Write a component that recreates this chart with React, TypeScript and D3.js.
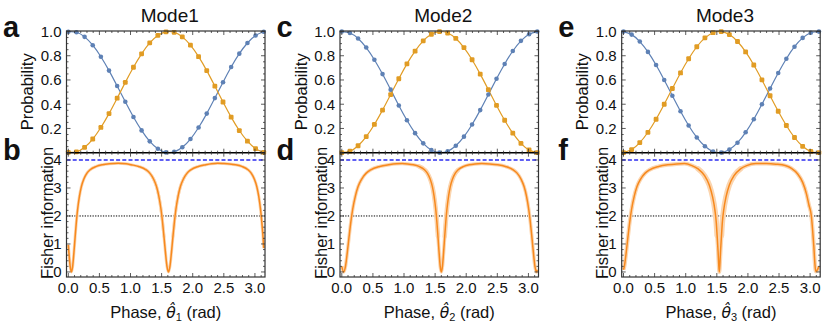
import React from 'react';
import * as d3 from 'd3';

// ---------- data ----------
const PHASE = [0, 0.1309, 0.2618, 0.3927, 0.5236, 0.6545, 0.7854, 0.9163, 1.0472, 1.1781, 1.309, 1.4399, 1.5708, 1.7017, 1.8326, 1.9635, 2.0944, 2.2253, 2.3562, 2.4871, 2.618, 2.7489, 2.8798, 3.0107, 3.1416];

const BLUE1 = [0.9975, 0.9935, 0.9557, 0.887, 0.7918, 0.6775, 0.5503, 0.4198, 0.295, 0.184, 0.0935, 0.0323, 0.0025, 0.0066, 0.0444, 0.1126, 0.2078, 0.3225, 0.4505, 0.5816, 0.7066, 0.8171, 0.905, 0.9669, 0.9976];
const ORANGE1 = [0.0025, 0.0065, 0.0443, 0.113, 0.2082, 0.3225, 0.4497, 0.5802, 0.705, 0.816, 0.9065, 0.9677, 0.9975, 0.9934, 0.9556, 0.8874, 0.7922, 0.6775, 0.5495, 0.4184, 0.2934, 0.1829, 0.095, 0.0331, 0.0024];
const BLUE2 = [0.9996, 0.9878, 0.9427, 0.8674, 0.7671, 0.6487, 0.5201, 0.39, 0.2672, 0.1612, 0.0773, 0.0225, 0.0004, 0.0123, 0.0572, 0.1323, 0.2329, 0.3515, 0.4801, 0.6098, 0.7322, 0.8389, 0.9227, 0.9775, 0.9996];
const ORANGE2 = [0.0004, 0.0122, 0.0573, 0.1326, 0.2329, 0.3513, 0.4799, 0.61, 0.7328, 0.8388, 0.9227, 0.9775, 0.9996, 0.9877, 0.9428, 0.8677, 0.7671, 0.6485, 0.5199, 0.3902, 0.2678, 0.1611, 0.0773, 0.0225, 0.0004];
const BLUE3 = [0.9991, 0.9743, 0.9172, 0.8317, 0.7236, 0.6004, 0.4702, 0.3422, 0.2245, 0.1259, 0.0527, 0.0101, 0.0009, 0.0256, 0.0826, 0.1683, 0.2763, 0.3996, 0.5301, 0.6579, 0.7755, 0.8744, 0.9473, 0.9898, 0.9991];
const ORANGE3 = [0.0009, 0.0258, 0.0829, 0.1685, 0.2761, 0.3998, 0.5295, 0.6581, 0.7752, 0.8742, 0.9474, 0.9899, 0.9991, 0.9745, 0.9175, 0.8314, 0.7238, 0.6006, 0.4697, 0.3419, 0.2246, 0.1254, 0.0526, 0.0103, 0.0009];

const FISHER1: [number, number][] = [[0, 0.97], [0.01, 0.69], [0.03, 0.2], [0.05, 0], [0.07, 0.2], [0.09, 0.69], [0.11, 1.26], [0.13, 1.8], [0.15, 2.24], [0.18, 2.72], [0.21, 3.05], [0.25, 3.32], [0.3, 3.53], [0.35, 3.65], [0.45, 3.77], [0.55, 3.83], [0.66, 3.865], [0.8, 3.885], [0.93, 3.865], [1.01, 3.83], [1.13, 3.77], [1.25, 3.65], [1.31, 3.53], [1.37, 3.32], [1.418, 3.05], [1.454, 2.72], [1.49, 2.24], [1.514, 1.8], [1.538, 1.26], [1.562, 0.69], [1.586, 0.2], [1.61, 0], [1.634, 0.2], [1.658, 0.69], [1.682, 1.26], [1.706, 1.8], [1.73, 2.24], [1.766, 2.72], [1.802, 3.05], [1.85, 3.32], [1.91, 3.53], [1.97, 3.65], [2.09, 3.77], [2.21, 3.83], [2.3, 3.865], [2.4, 3.885], [2.5, 3.875], [2.59, 3.86], [2.69, 3.83], [2.79, 3.77], [2.89, 3.65], [2.94, 3.53], [2.99, 3.32], [3.03, 3.05], [3.06, 2.72], [3.09, 2.24], [3.11, 1.8], [3.13, 1.26], [3.142, 0.85]];
const FISHER2: [number, number][] = [[0, 0.2], [0.03, 0], [0.059, 0.2], [0.088, 0.69], [0.117, 1.26], [0.146, 1.8], [0.175, 2.24], [0.219, 2.72], [0.262, 3.05], [0.32, 3.32], [0.393, 3.53], [0.465, 3.65], [0.61, 3.77], [0.755, 3.83], [0.88, 3.865], [0.97, 3.875], [1.06, 3.86], [1.15, 3.83], [1.24, 3.77], [1.33, 3.65], [1.375, 3.53], [1.42, 3.32], [1.456, 3.05], [1.483, 2.72], [1.51, 2.24], [1.528, 1.8], [1.546, 1.26], [1.564, 0.69], [1.582, 0.2], [1.6, 0], [1.618, 0.2], [1.636, 0.69], [1.654, 1.26], [1.672, 1.8], [1.69, 2.24], [1.717, 2.72], [1.744, 3.05], [1.78, 3.32], [1.825, 3.53], [1.87, 3.65], [1.96, 3.77], [2.05, 3.83], [2.14, 3.86], [2.25, 3.875], [2.38, 3.86], [2.505, 3.83], [2.63, 3.77], [2.755, 3.65], [2.818, 3.53], [2.88, 3.32], [2.93, 3.05], [2.968, 2.72], [3.005, 2.24], [3.03, 1.8], [3.055, 1.26], [3.08, 0.69], [3.105, 0.2], [3.13, 0], [3.142, 0.08]];
const FISHER3: [number, number][] = [[0, 0.08], [0.014, 0.2], [0.043, 0.69], [0.072, 1.26], [0.101, 1.8], [0.13, 2.24], [0.174, 2.72], [0.217, 3.05], [0.275, 3.32], [0.348, 3.53], [0.42, 3.65], [0.565, 3.77], [0.71, 3.83], [0.855, 3.86], [0.98, 3.87], [1.1, 3.8], [1.2, 3.68], [1.3, 3.45], [1.38, 3.1], [1.43, 2.7], [1.47, 2.2], [1.49, 1.8], [1.505, 1.3], [1.52, 0.75], [1.53, 0.3], [1.54, 0], [1.55, 0.3], [1.56, 0.75], [1.575, 1.3], [1.59, 1.8], [1.61, 2.2], [1.65, 2.7], [1.7, 3.1], [1.78, 3.45], [1.88, 3.68], [1.98, 3.8], [2.13, 3.87], [2.3, 3.87], [2.45, 3.85], [2.6, 3.8], [2.7, 3.7], [2.8, 3.5], [2.88, 3.2], [2.94, 2.8], [2.98, 2.4], [3.02, 2.0], [3.04, 1.5], [3.06, 0.9], [3.075, 0.35], [3.09, 0.02], [3.11, 0.05], [3.142, 0.2]];

const MODE_TITLES = ['Mode1', 'Mode2', 'Mode3'];
const TOP_LETTERS = ['a', 'c', 'e'];
const BOTTOM_LETTERS = ['b', 'd', 'f'];
const SUBSCRIPTS = ['1', '2', '3'];
const X_TICKS = [0, 0.5, 1, 1.5, 2, 2.5, 3];
const X_TICK_LABELS = ['0.0', '0.5', '1.0', '1.5', '2.0', '2.5', '3.0'];
const P_TICKS = [0.2, 0.4, 0.6, 0.8, 1.0];
const P_TICK_LABELS = ['0.2', '0.4', '0.6', '0.8', '1.0'];
const F_TICKS = [0, 1, 2, 3, 4];
const F_TICK_LABELS = ['0', '1', '2', '3', '4'];
const F_HEISENBERG = 4;
const F_SHOT = 2;

const BLUES = [BLUE1, BLUE2, BLUE3];
const ORANGES = [ORANGE1, ORANGE2, ORANGE3];
const FISHERS = [FISHER1, FISHER2, FISHER3];
const BAND_WIDTH = [3, 3.5, 4];
const DIP_BAND_WIDTH = [3, 4.5, 5.5];

// ---------- layout ----------
const W = 831, H = 334;
const PANEL_LEFT = [66.5, 340, 621.7];
const PANEL_W = 198.5;
const TOP_Y0 = 31, MID_Y = 152.7, BOT_Y1 = 277;
const FONT = 'Liberation Sans, Arial, Helvetica, sans-serif';
const C_BLUE = '#5E81B5';
const C_ORANGE = '#E19C24';
const C_FISHER = '#F7891E';
const C_BAND = '#FBD5AF';
const C_FRAME = '#333';

function Panel({ i }: { i: number }) {
  const left = PANEL_LEFT[i];
  const right = left + PANEL_W;
  const x = d3.scaleLinear().domain([-0.029, 3.162]).range([left, right]);
  const yP = d3.scaleLinear().domain([0, 1]).range([MID_Y, TOP_Y0 + 0.5]);
  const yF = d3.scaleLinear().domain([-0.18, 4.26]).range([BOT_Y1, MID_Y]);

  const lineP = d3.line<number>().x((_, k) => x(PHASE[k])).y(d => yP(d)).curve(d3.curveNatural);
  const lineF = d3.line<[number, number]>().x(d => x(d[0])).y(d => yF(d[1])).curve(d3.curveMonotoneX);

  const xMinor = d3.range(0, 3.15, 0.1);
  const pMinor = d3.range(0, 1.001, 0.05);
  const fMinor = d3.range(0, 4.21, 0.2);
  const isMajor = (v: number, step: number) => Math.abs(v / step - Math.round(v / step)) < 1e-6;
  const clipId = `clipF${i}`;
  const shoulderL = FISHERS[i].filter(d => d[0] > 1.15 && d[0] < 1.56 && d[1] > 1);
  const shoulderR = FISHERS[i].filter(d => d[0] > 1.56 && d[0] < 1.95 && d[1] > 1);

  return (
    <g>
      <defs>
        <clipPath id={clipId}>
          <rect x={left} y={MID_Y} width={PANEL_W} height={BOT_Y1 - MID_Y} />
        </clipPath>
      </defs>
      {/* fisher panel */}
      <g clipPath={`url(#${clipId})`}>
        <line x1={left} x2={right} y1={yF(F_HEISENBERG)} y2={yF(F_HEISENBERG)} stroke="#2b2bf0" strokeWidth={1.3} strokeDasharray="4,2.2" />
        <line x1={left} x2={right} y1={yF(F_SHOT)} y2={yF(F_SHOT)} stroke="#000" strokeWidth={1} strokeDasharray="1.3,1.3" />
        <path d={lineF(FISHERS[i]) || ''} fill="none" stroke={C_BAND} strokeWidth={BAND_WIDTH[i]} strokeLinejoin="round" />
        <path d={lineF(shoulderL) || ''} fill="none" stroke={C_BAND} strokeWidth={DIP_BAND_WIDTH[i]} strokeLinejoin="round" strokeLinecap="round" />
        <path d={lineF(shoulderR) || ''} fill="none" stroke={C_BAND} strokeWidth={DIP_BAND_WIDTH[i]} strokeLinejoin="round" strokeLinecap="round" />
        <path d={lineF(FISHERS[i]) || ''} fill="none" stroke={C_FISHER} strokeWidth={1.5} strokeLinejoin="round" />
      </g>
      {/* probability panel */}
      <path d={lineP(BLUES[i]) || ''} fill="none" stroke={C_BLUE} strokeWidth={1.2} />
      <path d={lineP(ORANGES[i]) || ''} fill="none" stroke={C_ORANGE} strokeWidth={1.2} />
      {BLUES[i].map((v, k) => (
        <circle key={'b' + k} cx={x(PHASE[k])} cy={yP(v)} r={2.3} fill={C_BLUE} />
      ))}
      {ORANGES[i].map((v, k) => (
        <rect key={'o' + k} x={x(PHASE[k]) - 2.4} y={yP(v) - 2.4} width={4.8} height={4.8} rx={1.2} fill={C_ORANGE} />
      ))}
      {/* frames */}
      <rect x={left} y={TOP_Y0} width={PANEL_W} height={BOT_Y1 - TOP_Y0} fill="none" stroke={C_FRAME} strokeWidth={1.2} />
      <line x1={left} x2={right} y1={MID_Y} y2={MID_Y} stroke="#000" strokeWidth={1.5} />
      {/* ticks */}
      {xMinor.map((v, k) => {
        const len = isMajor(v, 0.5) ? 4 : 2;
        const px = x(v);
        return (
          <g key={'xt' + k} stroke={C_FRAME} strokeWidth={0.8}>
            <line x1={px} x2={px} y1={TOP_Y0} y2={TOP_Y0 + len} />
            <line x1={px} x2={px} y1={MID_Y - len} y2={MID_Y + len} />
            <line x1={px} x2={px} y1={BOT_Y1} y2={BOT_Y1 - len} />
          </g>
        );
      })}
      {pMinor.map((v, k) => {
        const len = isMajor(v, 0.2) ? 4 : 2;
        const py = yP(v);
        return (
          <g key={'pt' + k} stroke={C_FRAME} strokeWidth={0.8}>
            <line x1={left} x2={left + len} y1={py} y2={py} />
            <line x1={right} x2={right - len} y1={py} y2={py} />
          </g>
        );
      })}
      {fMinor.map((v, k) => {
        const len = isMajor(v, 1) ? 4 : 2;
        const py = yF(v);
        return (
          <g key={'ft' + k} stroke={C_FRAME} strokeWidth={0.8}>
            <line x1={left} x2={left + len} y1={py} y2={py} />
            <line x1={right} x2={right - len} y1={py} y2={py} />
          </g>
        );
      })}
      {/* tick labels */}
      <g fontFamily={FONT} fontSize={15} fill="#111">
        {X_TICKS.map((v, k) => (
          <text key={'xl' + k} x={x(v)} y={292.5} textAnchor="middle">{X_TICK_LABELS[k]}</text>
        ))}
        {P_TICKS.map((v, k) => (
          <text key={'pl' + k} x={left - 5} y={yP(v)} dy="0.36em" textAnchor="end">{P_TICK_LABELS[k]}</text>
        ))}
        {F_TICKS.map((v, k) => (
          <text key={'fl' + k} x={left - 5} y={yF(v)} dy="0.36em" textAnchor="end">{F_TICK_LABELS[k]}</text>
        ))}
      </g>
      {/* axis titles */}
      <g fontFamily={FONT} fontSize={16.5} fill="#111">
        <text transform={`translate(${left - 33.5},${(TOP_Y0 + MID_Y) / 2}) rotate(-90)`} textAnchor="middle">Probability</text>
        <text transform={`translate(${left - 13.5},${(MID_Y + BOT_Y1) / 2 - 2}) rotate(-90)`} textAnchor="middle">Fisher information</text>
        <text x={left + PANEL_W / 2} y={318} textAnchor="middle">
          Phase, <tspan fontStyle="italic" fontFamily="DejaVu Sans" fontSize={15.5}>{'θ\u0302'}</tspan><tspan fontSize={11} dy={3}>{SUBSCRIPTS[i]}</tspan><tspan dy={-3}> (rad)</tspan>
        </text>
      </g>
      <text x={left + PANEL_W / 2 + 4} y={21.5} textAnchor="middle" fontFamily={FONT} fontSize={19} fill="#111">{MODE_TITLES[i]}</text>
      <text x={left - 63.5} y={37} fontFamily={FONT} fontSize={29} fontWeight="bold" fill="#111">{TOP_LETTERS[i]}</text>
      <text x={left - 63.5} y={160} fontFamily={FONT} fontSize={29} fontWeight="bold" fill="#111">{BOTTOM_LETTERS[i]}</text>
    </g>
  );
}

export default function App() {
  return (
    <svg width={W} height={H} style={{ position: 'absolute', left: 0, top: 0, background: '#fff' }}>
      <rect width={W} height={H} fill="#fff" />
      {[0, 1, 2].map(i => <Panel key={i} i={i} />)}
    </svg>
  );
}
